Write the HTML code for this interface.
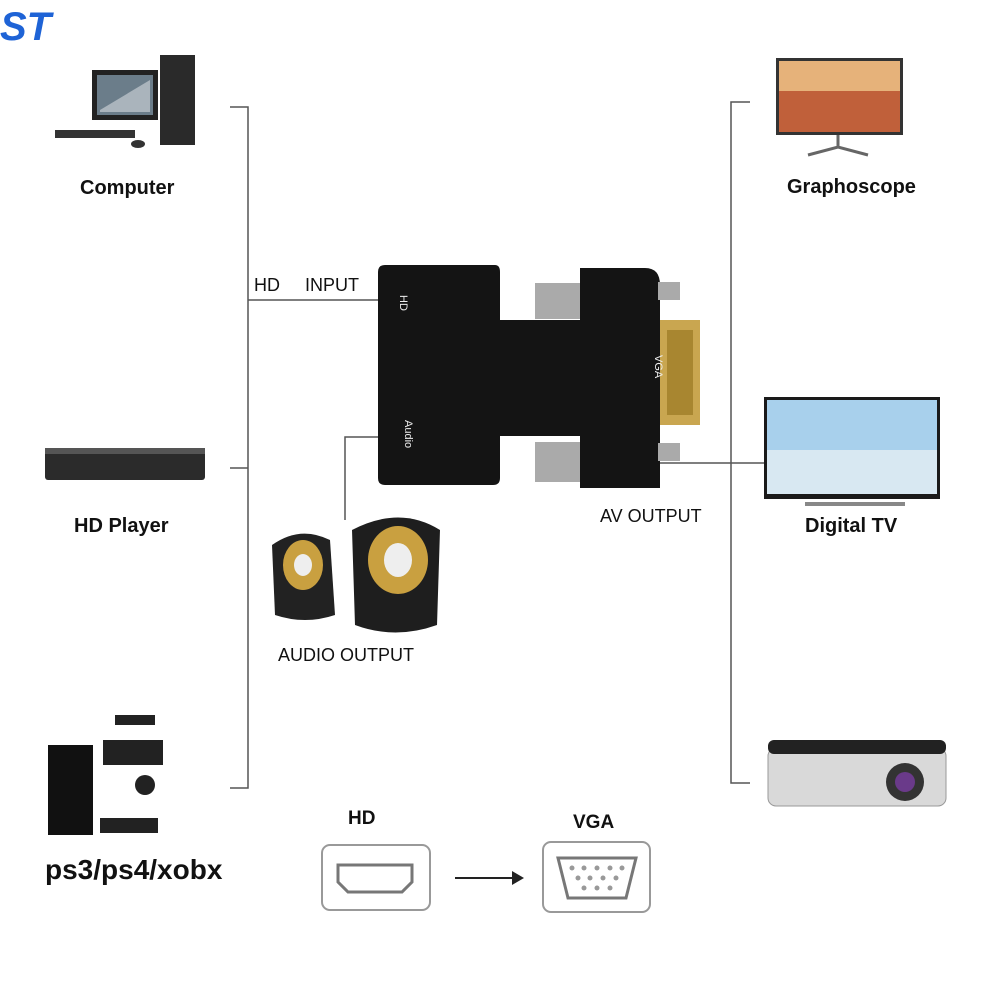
<!DOCTYPE html>
<html><head><meta charset="utf-8"><style>
html,body{margin:0;padding:0;background:#fff}
#c{position:relative;width:1000px;height:1000px;overflow:hidden;background:#fff;font-family:"Liberation Sans",sans-serif}
.t{position:absolute;white-space:nowrap;color:#111}
.b{font-weight:bold}
</style></head><body><div id="c">
<svg width="1000" height="1000" style="position:absolute;left:0;top:0">
<text x="0" y="40" font-family="Liberation Sans" font-weight="bold" font-size="40" fill="#1e63d6" font-style="italic">ST</text>
<g stroke="#555" stroke-width="1.5" fill="none">
<path d="M230 107H248V788H230M230 468H248M248 300H380"/>
<path d="M750 102H731V783H750M731 463H765M660 463H731"/>
<path d="M345 520V437H392"/>
</g>
<rect x="92" y="70" width="66" height="50" fill="#222"/><rect x="97" y="75" width="56" height="40" fill="#6b7d8a"/>
<path d="M100 110L150 80V112H100Z" fill="#aab4bc"/>
<rect x="160" y="55" width="35" height="90" fill="#2a2a2a"/>
<rect x="55" y="130" width="80" height="8" fill="#333"/><ellipse cx="138" cy="144" rx="7" ry="4" fill="#333"/>
<rect x="45" y="448" width="160" height="32" rx="3" fill="#2b2b2b"/><rect x="45" y="448" width="160" height="6" fill="#555"/>
<rect x="48" y="745" width="45" height="90" fill="#111"/><rect x="103" y="740" width="60" height="25" fill="#222"/>
<rect x="115" y="715" width="40" height="10" fill="#222"/><rect x="100" y="818" width="58" height="15" fill="#222"/>
<circle cx="145" cy="785" r="10" fill="#222"/>
<rect x="776" y="58" width="127" height="77" fill="#333"/><rect x="779" y="61" width="121" height="71" fill="#c0603a"/>
<rect x="779" y="61" width="121" height="30" fill="#e6b27a"/>
<path d="M838 135V148M808 155L838 147L868 155" stroke="#666" stroke-width="3" fill="none"/>
<rect x="764" y="397" width="176" height="102" fill="#1a1a1a"/><rect x="767" y="400" width="170" height="94" fill="#a8d0ec"/>
<rect x="767" y="450" width="170" height="44" fill="#d8e8f2"/>
<path d="M805 504H905" stroke="#888" stroke-width="4"/>
<rect x="768" y="748" width="178" height="58" rx="8" fill="#d9d9d9" stroke="#999"/>
<rect x="768" y="740" width="178" height="14" rx="6" fill="#222"/>
<circle cx="905" cy="782" r="19" fill="#333"/><circle cx="905" cy="782" r="10" fill="#6a3a8a"/>
<path d="M378 272Q378 265 385 265H495Q500 265 500 272V320H580V268H645Q660 268 660 285V488H580V436H500V478Q500 485 493 485H385Q378 485 378 478Z" fill="#141414"/>
<rect x="660" y="320" width="40" height="105" fill="#c9a650"/>
<rect x="667" y="330" width="26" height="85" fill="#a88630"/>
<rect x="535" y="283" width="45" height="36" fill="#aaa"/><rect x="535" y="442" width="45" height="40" fill="#aaa"/>
<rect x="658" y="282" width="22" height="18" fill="#aaa"/><rect x="658" y="443" width="22" height="18" fill="#aaa"/>
<text x="395" y="300" fill="#eee" font-size="11" transform="rotate(90 400 300)">HD</text>
<text x="640" y="350" fill="#eee" font-size="11" transform="rotate(90 645 360)">VGA</text>
<text x="395" y="420" fill="#eee" font-size="11" transform="rotate(90 400 425)">Audio</text>
<path d="M272 545Q300 525 330 540L335 615Q305 625 275 615Z" fill="#222"/>
<ellipse cx="303" cy="565" rx="20" ry="25" fill="#c9a040"/><ellipse cx="303" cy="565" rx="9" ry="11" fill="#eee"/>
<path d="M352 530Q400 505 440 530L437 625Q395 640 355 625Z" fill="#1e1e1e"/>
<ellipse cx="398" cy="560" rx="30" ry="34" fill="#c9a040"/><ellipse cx="398" cy="560" rx="14" ry="17" fill="#eee"/>
<rect x="322" y="845" width="108" height="65" rx="8" fill="#fff" stroke="#999" stroke-width="2"/>
<path d="M338 865H412V882L402 892H348L338 882Z" fill="none" stroke="#777" stroke-width="3"/>
<path d="M455 878H515" stroke="#222" stroke-width="2"/><path d="M512 871L524 878L512 885Z" fill="#222"/>
<rect x="543" y="842" width="107" height="70" rx="8" fill="#fff" stroke="#999" stroke-width="2"/>
<path d="M558 858H636L626 898H568Z" fill="none" stroke="#777" stroke-width="3"/>
<g fill="#999"><circle cx="572" cy="868" r="2.5"/><circle cx="584" cy="868" r="2.5"/><circle cx="597" cy="868" r="2.5"/><circle cx="610" cy="868" r="2.5"/><circle cx="622" cy="868" r="2.5"/>
<circle cx="578" cy="878" r="2.5"/><circle cx="590" cy="878" r="2.5"/><circle cx="603" cy="878" r="2.5"/><circle cx="616" cy="878" r="2.5"/>
<circle cx="584" cy="888" r="2.5"/><circle cx="597" cy="888" r="2.5"/><circle cx="610" cy="888" r="2.5"/></g>
</svg>
<div class="t b" style="left:80px;top:177px;font-size:20px">Computer</div>
<div class="t b" style="left:74px;top:515px;font-size:20px">HD Player</div>
<div class="t b" style="left:45px;top:854px;font-size:28px">ps3/ps4/xobx</div>
<div class="t b" style="left:787px;top:176px;font-size:20px">Graphoscope</div>
<div class="t b" style="left:805px;top:515px;font-size:20px">Digital TV</div>
<div class="t" style="left:254px;top:275px;font-size:18px">HD&nbsp;&nbsp;&nbsp;&nbsp; INPUT</div>
<div class="t" style="left:600px;top:506px;font-size:18px">AV OUTPUT</div>
<div class="t" style="left:278px;top:645px;font-size:18px">AUDIO OUTPUT</div>
<div class="t b" style="left:348px;top:808px;font-size:19px">HD</div>
<div class="t b" style="left:573px;top:812px;font-size:19px">VGA</div>
</div></body></html>
